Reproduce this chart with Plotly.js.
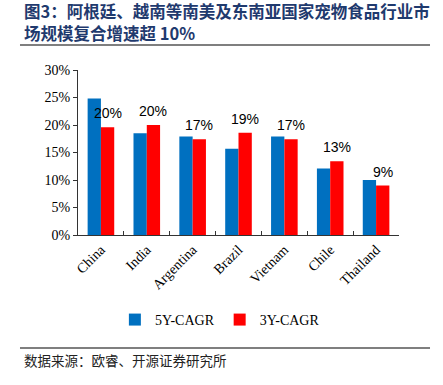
<!DOCTYPE html>
<html>
<head>
<meta charset="utf-8">
<script src="https://cdn.plot.ly/plotly-3.0.1.min.js"></script>
<style>html,body{margin:0;padding:0;background:#fff;}#chart{width:443px;height:385px;}</style>
</head>
<body>
<div id="chart"></div>
<script>
var countries = ["China", "India", "Argentina", "Brazil", "Vietnam", "Chile", "Thailand"];
var cagr5 = [24.8, 18.5, 17.9, 15.7, 17.9, 12.1, 10.0];
var cagr3 = [19.6, 20.0, 17.4, 18.6, 17.4, 13.4, 9.0];
var seriesNames = ["5Y-CAGR", "3Y-CAGR"];
var titleLines = ["图3：阿根廷、越南等南美及东南亚国家宠物食品行业市", "场规模复合增速超 10%"];
var sourceText = "数据来源：欧睿、开源证券研究所";

var serif = "Liberation Serif, Times New Roman, serif";
var cjk = "Noto Sans CJK SC, sans-serif";

var traces = [
  {type: "bar", name: seriesNames[0], x: countries, y: cagr5,
   marker: {color: "#0070C0"}, hoverinfo: "skip"},
  {type: "bar", name: seriesNames[1], x: countries, y: cagr3,
   marker: {color: "#FF0000"}, hoverinfo: "skip"}
];

var labelAnnotations = countries.map(function (c, i) {
  return {xref: "x", yref: "y", x: c, y: cagr3[i], xshift: 6.7, yshift: 4,
          xanchor: "center", yanchor: "bottom", showarrow: false,
          text: Math.round(cagr3[i]) + "%",
          font: {family: "Liberation Sans, Arial, sans-serif", size: 14, color: "#000"}};
});

var layout = {
  width: 443, height: 385,
  margin: {l: 78, r: 44, t: 70, b: 150},
  paper_bgcolor: "#fff", plot_bgcolor: "#fff",
  barmode: "group", bargap: 0.42, bargroupgap: 0,
  showlegend: true,
  legend: {orientation: "h", x: 0.442, xanchor: "center", y: -0.515, yanchor: "middle",
           font: {family: serif, size: 14, color: "#000"}, itemwidth: 30, traceorder: "normal"},
  xaxis: {type: "category", showline: true, linecolor: "#333", linewidth: 1,
          ticks: "inside", tickson: "boundaries", ticklen: 4, tickcolor: "#333",
          tickangle: -45, tickfont: {family: serif, size: 14, color: "#000"},
          showgrid: false, zeroline: false, fixedrange: true},
  yaxis: {range: [0, 30], dtick: 5, ticksuffix: "%", showline: true, linecolor: "#333", linewidth: 1,
          ticks: "outside", ticklen: 4, tickcolor: "#333",
          tickfont: {family: serif, size: 14, color: "#000"},
          showgrid: false, zeroline: false, fixedrange: true},
  annotations: [
    {xref: "paper", yref: "paper", x: -0.1745, y: 1.357, xanchor: "left", yanchor: "middle",
     text: "<b>" + titleLines[0] + "</b>", showarrow: false,
     font: {family: cjk, size: 16.5, color: "#1F3A6E"}},
    {xref: "paper", yref: "paper", x: -0.1745, y: 1.224, xanchor: "left", yanchor: "middle",
     text: "<b>" + titleLines[1] + "</b>", showarrow: false,
     font: {family: cjk, size: 16.5, color: "#1F3A6E"}},
    {xref: "paper", yref: "paper", x: -0.1745, y: -0.758, xanchor: "left", yanchor: "middle",
     text: sourceText, showarrow: false,
     font: {family: cjk, size: 13.5, color: "#222"}}
  ].concat(labelAnnotations),
  shapes: [
    {type: "line", xref: "paper", yref: "paper", x0: -0.1807, x1: 1.0966, y0: 1.1515, y1: 1.1515,
     line: {color: "#7f7f7f", width: 2}},
    {type: "line", xref: "paper", yref: "paper", x0: -0.1807, x1: 1.0966, y0: -0.685, y1: -0.685,
     line: {color: "#7f7f7f", width: 2}}
  ]
};

Plotly.newPlot("chart", traces, layout, {displayModeBar: false, staticPlot: true});
</script>
</body>
</html>
